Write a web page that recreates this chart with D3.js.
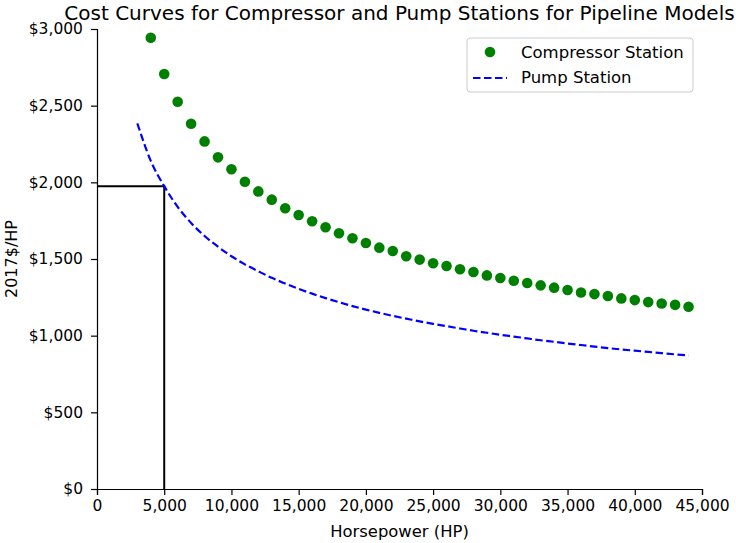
<!DOCTYPE html>
<html>
<head>
<meta charset="utf-8">
<script src="https://cdn.jsdelivr.net/npm/d3@7/dist/d3.min.js"></script>
<style>
  body { margin: 0; background: #fff; }
  svg { font-family: 'DejaVu Sans', sans-serif; }
</style>
</head>
<body>
<svg id="chart"></svg>
<script>
// compressor station cost, 2017$/HP, every 1,000 HP
let compressorHP = d3.range(4000, 44001, 1000);
let compressorCost = [
    2943, 2707, 2526, 2382, 2267, 2163, 2085, 2004, 1941, 1887,
    1831, 1787, 1746, 1707, 1668, 1635, 1604, 1574, 1552, 1518,
    1496, 1472, 1454, 1433, 1415, 1393, 1376, 1358, 1343, 1328,
    1313, 1298, 1282, 1271, 1259, 1243, 1232, 1219, 1210, 1201,
    1189
];

// pump station curve
let pumpHP = d3.range(3000, 44001, 1000);
let pumpCost = [
    2385, 2140, 1975, 1840, 1735, 1650, 1580, 1518, 1465, 1420,
    1377, 1340, 1305, 1274, 1245, 1218, 1193, 1170, 1149, 1129,
    1111, 1093, 1077, 1062, 1047, 1032, 1019, 1006, 994, 982,
    970, 960, 949, 939, 929, 919, 910, 902, 894, 886,
    878, 871
];

// the 5,000 HP reference marker
let refHP = 5000;
let refCost = 1975;

let xTicks = d3.range(0, 45001, 5000);
let yTicks = d3.range(0, 3001, 500);

function getConfig() {
    let width = 736;
    let height = 543;
    let margin = { top: 29, bottom: 54, left: 97, right: 34 };
    let bodyWidth = width - margin.left - margin.right;
    let bodyHeight = height - margin.top - margin.bottom;
    let container = d3.select('#chart')
        .attr('width', width)
        .attr('height', height);
    return { width, height, margin, bodyWidth, bodyHeight, container };
}

function getScales(config) {
    let xScale = d3.scaleLinear()
        .domain([0, 45000])
        .range([0, config.bodyWidth]);
    let yScale = d3.scaleLinear()
        .domain([0, 3000])
        .range([config.bodyHeight, 0]);
    return { xScale, yScale };
}

function drawAxes(config, scales) {
    let { container, margin, bodyHeight } = config;
    let { xScale, yScale } = scales;

    let axisX = d3.axisBottom(xScale)
        .tickValues(xTicks)
        .tickFormat(d3.format(','))
        .tickSizeOuter(0)
        .tickSize(6)
        .tickPadding(5);
    let gx = container.append('g')
        .attr('transform', `translate(${margin.left},${margin.top + bodyHeight})`)
        .call(axisX);

    let axisY = d3.axisLeft(yScale)
        .tickValues(yTicks)
        .tickFormat(d => '$' + d3.format(',')(d))
        .tickSizeOuter(0)
        .tickSize(6)
        .tickPadding(8);
    let gy = container.append('g')
        .attr('transform', `translate(${margin.left},${margin.top})`)
        .call(axisY);

    [gx, gy].forEach(g => {
        g.selectAll('text')
            .attr('font-family', 'DejaVu Sans')
            .attr('font-size', 15.5)
            .attr('fill', '#000');
        g.selectAll('line, path').attr('stroke', '#000').attr('stroke-width', 1.2);
    });
}

function drawMarks(config, scales) {
    let { container, margin } = config;
    let { xScale, yScale } = scales;
    let body = container.append('g')
        .attr('transform', `translate(${margin.left},${margin.top})`);

    // black reference lines at 5,000 HP
    body.append('path')
        .attr('d', `M${xScale(0)},${yScale(refCost)}H${xScale(refHP)}V${yScale(0)}`)
        .attr('fill', 'none')
        .attr('stroke', '#000')
        .attr('stroke-width', 2);

    let pump = pumpHP.map((hp, i) => [hp, pumpCost[i]]);
    let line = d3.line()
        .x(d => xScale(d[0]))
        .y(d => yScale(d[1]))
        .curve(d3.curveMonotoneX);
    body.append('path')
        .datum(pump)
        .attr('d', line)
        .attr('fill', 'none')
        .attr('stroke', '#0000ff')
        .attr('stroke-width', 2.2)
        .attr('stroke-dasharray', '7.5,3.5');

    let comp = compressorHP.map((hp, i) => ({ hp, cost: compressorCost[i] }));
    body.selectAll('.pt').data(comp)
        .enter().append('circle')
        .attr('class', 'pt')
        .attr('cx', d => xScale(d.hp))
        .attr('cy', d => yScale(d.cost))
        .attr('r', 5.3)
        .attr('fill', '#008000');
}

function drawLabels(config) {
    let { container, margin, bodyWidth, bodyHeight, height } = config;
    let cx = margin.left + bodyWidth / 2;

    container.append('text')
        .attr('x', cx)
        .attr('y', 20)
        .attr('text-anchor', 'middle')
        .attr('font-size', 20)
        .text('Cost Curves for Compressor and Pump Stations for Pipeline Models');

    container.append('text')
        .attr('x', cx)
        .attr('y', height - 6)
        .attr('text-anchor', 'middle')
        .attr('font-size', 16.4)
        .text('Horsepower (HP)');

    container.append('text')
        .attr('transform', `translate(17,${margin.top + bodyHeight / 2}) rotate(-90)`)
        .attr('text-anchor', 'middle')
        .attr('font-size', 16)
        .text('2017$/HP');
}

function drawLegend(config) {
    let { container } = config;
    let g = container.append('g').attr('transform', 'translate(467,38)');
    g.append('rect')
        .attr('width', 226)
        .attr('height', 54)
        .attr('rx', 3)
        .attr('fill', '#fff')
        .attr('fill-opacity', 0.8)
        .attr('stroke', '#ccc');
    g.append('circle')
        .attr('cx', 23)
        .attr('cy', 14)
        .attr('r', 5.3)
        .attr('fill', '#008000');
    g.append('line')
        .attr('x1', 6).attr('x2', 40)
        .attr('y1', 40).attr('y2', 40)
        .attr('stroke', '#0000ff')
        .attr('stroke-width', 2.2)
        .attr('stroke-dasharray', '7.5,3.5');
    g.append('text')
        .attr('x', 54).attr('y', 20)
        .attr('font-size', 16.5)
        .text('Compressor Station');
    g.append('text')
        .attr('x', 54).attr('y', 45)
        .attr('font-size', 16.5)
        .text('Pump Station');
}

let config = getConfig();
let scales = getScales(config);
drawMarks(config, scales);
drawAxes(config, scales);
drawLabels(config);
drawLegend(config);
</script>
</body>
</html>
